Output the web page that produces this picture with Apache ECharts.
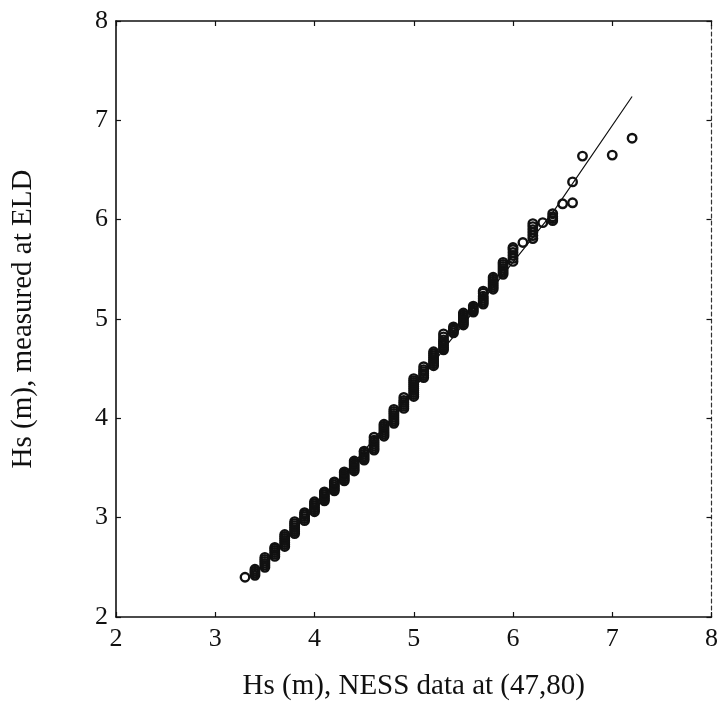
<!DOCTYPE html>
<html>
<head>
<meta charset="utf-8">
<script src="https://cdn.jsdelivr.net/npm/echarts@6/dist/echarts.min.js"></script>
<style>
html,body{margin:0;padding:0;background:#fff;}
#chart{width:721px;height:709px;}
</style>
</head>
<body>
<div id="chart"></div>
<script>
// NESS Hs (x) columns and the measured ELD Hs values (y) stacked in each column
var colX = [3.3, 3.4, 3.5, 3.6, 3.7, 3.8, 3.9, 4.0, 4.1, 4.2, 4.3, 4.4, 4.5, 4.6, 4.7, 4.8, 4.9, 5.0, 5.1, 5.2, 5.3, 5.4, 5.5, 5.6, 5.7, 5.8, 5.9, 6.0, 6.1, 6.2, 6.3, 6.4, 6.5, 6.6, 6.7, 7.0, 7.2];
var colY = [
  [2.40],
  [2.42, 2.44, 2.46, 2.48],
  [2.50, 2.52, 2.54, 2.56, 2.58, 2.60],
  [2.61, 2.63, 2.65, 2.67, 2.69, 2.70],
  [2.71, 2.73, 2.75, 2.77, 2.79, 2.81, 2.83],
  [2.84, 2.86, 2.88, 2.90, 2.92, 2.94, 2.96],
  [2.97, 2.99, 3.01, 3.03, 3.05],
  [3.06, 3.08, 3.10, 3.12, 3.14, 3.16],
  [3.17, 3.19, 3.21, 3.23, 3.25, 3.26],
  [3.27, 3.29, 3.31, 3.33, 3.35, 3.36],
  [3.37, 3.39, 3.41, 3.43, 3.45, 3.46],
  [3.47, 3.49, 3.51, 3.53, 3.55, 3.57],
  [3.58, 3.60, 3.62, 3.64, 3.66, 3.67],
  [3.68, 3.70, 3.72, 3.74, 3.76, 3.78, 3.81],
  [3.82, 3.84, 3.86, 3.88, 3.90, 3.92, 3.94],
  [3.95, 3.97, 3.99, 4.01, 4.03, 4.05, 4.07, 4.09],
  [4.10, 4.12, 4.14, 4.16, 4.18, 4.21],
  [4.22, 4.24, 4.26, 4.28, 4.30, 4.32, 4.34, 4.36, 4.38, 4.40],
  [4.41, 4.43, 4.45, 4.47, 4.49, 4.52],
  [4.53, 4.55, 4.57, 4.59, 4.61, 4.63, 4.65, 4.67],
  [4.69, 4.71, 4.73, 4.75, 4.77, 4.79, 4.82, 4.85],
  [4.86, 4.88, 4.90, 4.92],
  [4.94, 4.96, 4.98, 5.00, 5.02, 5.04, 5.06],
  [5.07, 5.09, 5.11, 5.13],
  [5.15, 5.17, 5.19, 5.21, 5.23, 5.26, 5.28],
  [5.30, 5.32, 5.34, 5.36, 5.38, 5.40, 5.42],
  [5.45, 5.47, 5.49, 5.51, 5.53, 5.55, 5.57],
  [5.58, 5.61, 5.64, 5.67, 5.70, 5.72],
  [5.77],
  [5.81, 5.84, 5.87, 5.90, 5.93, 5.96],
  [5.97],
  [5.99, 6.01, 6.03, 6.06],
  [6.16],
  [6.17, 6.38],
  [6.64],
  [6.65],
  [6.82]
];
// fitted line
var lineX = [4.0, 4.8, 5.35, 6.4, 7.2];
var lineY = [3.08, 4.03, 4.76, 6.07, 7.24];
// tick labels
var xTicks = ['2', '3', '4', '5', '6', '7', '8'];
var yTicks = ['2', '3', '4', '5', '6', '7', '8'];
var xTitle = 'Hs (m), NESS data at (47,80)';
var yTitle = 'Hs (m), measured at ELD';

var pts = [];
colX.forEach(function (x, i) {
  colY[i].forEach(function (y) { pts.push([x, y]); });
});
var linePts = lineX.map(function (x, i) { return [x, lineY[i]]; });

var font = '"Liberation Serif", "DejaVu Serif", serif';
var chart = echarts.init(document.getElementById('chart'), null, {renderer: 'canvas'});
var axLine = {show: true, lineStyle: {color: '#111', width: 1.6}};
var tick = {show: true, inside: true, length: 5, lineStyle: {color: '#111', width: 1.2}};
chart.setOption({
  backgroundColor: '#fff',
  animation: false,
  grid: {left: 116, right: 7, top: 21, bottom: 92, containLabel: false},
  xAxis: [{
    type: 'value', min: 2, max: 8, interval: 1, position: 'bottom',
    axisLine: axLine, axisTick: tick, splitLine: {show: false},
    axisLabel: {color: '#111', fontFamily: font, fontSize: 26, margin: 9,
      formatter: function (v) { return xTicks[Math.round(v) - 2]; }},
    name: xTitle, nameLocation: 'middle', nameGap: 55,
    nameTextStyle: {color: '#111', fontFamily: font, fontSize: 29}
  }, {
    type: 'value', min: 2, max: 8, interval: 1, position: 'top',
    axisLine: axLine, axisTick: tick, axisLabel: {show: false}, splitLine: {show: false}
  }],
  yAxis: [{
    type: 'value', min: 2, max: 8, interval: 1, position: 'left',
    axisLine: axLine, axisTick: tick, splitLine: {show: false},
    axisLabel: {color: '#111', fontFamily: font, fontSize: 26, margin: 8,
      formatter: function (v) { return yTicks[Math.round(v) - 2]; }},
    name: yTitle, nameLocation: 'middle', nameGap: 78, nameRotate: 90,
    nameTextStyle: {color: '#111', fontFamily: font, fontSize: 29}
  }, {
    type: 'value', min: 2, max: 8, interval: 1, position: 'right',
    axisLine: {show: true, lineStyle: {color: '#333', width: 1.2, type: [4, 3]}},
    axisTick: tick, axisLabel: {show: false}, splitLine: {show: false}
  }],
  series: [{
    type: 'line', data: linePts, xAxisIndex: 0, yAxisIndex: 0,
    symbol: 'none', lineStyle: {color: '#111', width: 1.2}, z: 2
  }, {
    type: 'scatter', data: pts, xAxisIndex: 0, yAxisIndex: 0,
    symbol: 'circle', symbolSize: 8.5,
    itemStyle: {color: 'rgba(255,255,255,0)', borderColor: '#111', borderWidth: 2.4, opacity: 1}, z: 3
  }]
});
</script>
</body>
</html>
